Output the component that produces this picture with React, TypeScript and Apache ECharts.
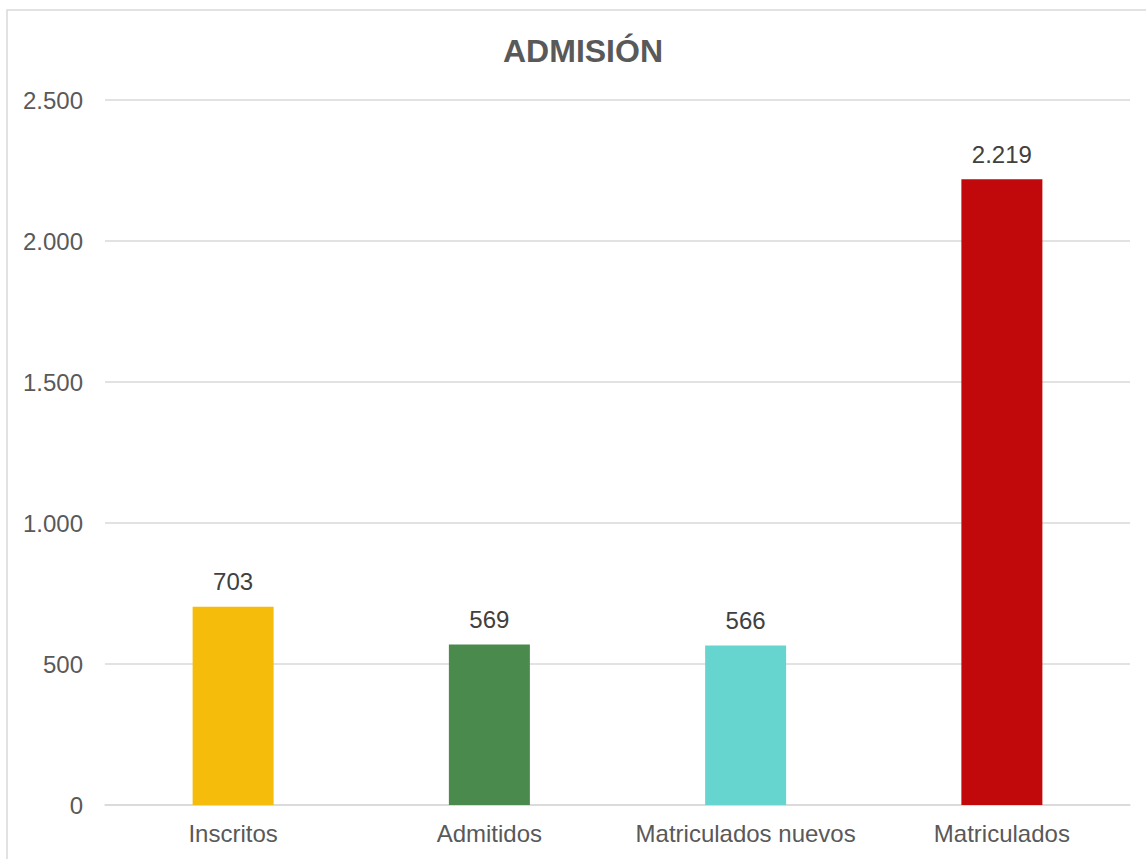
import React, { useEffect, useRef } from "react";
import * as echarts from "echarts";

const categories = ["Inscritos", "Admitidos", "Matriculados nuevos", "Matriculados"];
const values = [703, 569, 566, 2219];
const barColors = ["#F6BC0C", "#4A8A4C", "#67D5CF", "#C1090B"];
const yTicks = [0, 500, 1000, 1500, 2000, 2500];

const fmt = (v: number) => String(Math.round(v)).replace(/\B(?=(\d{3})+(?!\d))/g, ".");

export default function App() {
  const ref = useRef<HTMLDivElement>(null);
  useEffect(() => {
    document.body.style.margin = "0";
    const chart = echarts.init(ref.current!, undefined, { renderer: "svg" });
    const font = "'Liberation Sans', Arial, sans-serif";
    chart.setOption({
      animation: false,
      backgroundColor: "#ffffff",
      textStyle: { fontFamily: font },
      title: {
        text: "ADMISIÓN",
        left: 498,
        top: 30,
        textStyle: { fontSize: 32, fontWeight: "bold", color: "#595959", fontFamily: font },
      },
      graphic: [
        {
          type: "rect",
          shape: { x: 7, y: 10, width: 1160, height: 870 },
          style: { fill: "none", stroke: "#d9d9d9", lineWidth: 1.5 },
          silent: true,
          z: -1,
        },
      ],
      grid: { left: 105, right: 16, top: 100, bottom: 54, containLabel: false },
      xAxis: {
        type: "category",
        data: categories,
        axisLine: { show: true, lineStyle: { color: "#d9d9d9", width: 1.5 } },
        axisTick: { show: false },
        axisLabel: { color: "#595959", fontSize: 24, margin: 16, interval: 0, fontFamily: font },
      },
      yAxis: {
        type: "value",
        min: yTicks[0],
        max: yTicks[yTicks.length - 1],
        interval: 500,
        axisLine: { show: false },
        axisTick: { show: false },
        splitLine: { lineStyle: { color: "#d9d9d9", width: 1.5 } },
        axisLabel: { color: "#595959", fontSize: 24, margin: 22, formatter: (v: number) => fmt(v), fontFamily: font },
      },
      series: [
        {
          type: "bar",
          barWidth: 81,
          data: values.map((v, i) => ({ value: v, itemStyle: { color: barColors[i] } })),
          label: {
            show: true,
            position: "top",
            distance: 13,
            color: "#404040",
            fontSize: 24,
            fontFamily: font,
            formatter: (p: any) => fmt(p.value),
          },
        },
      ],
    });
    return () => chart.dispose();
  }, []);
  return <div ref={ref} style={{ position: "absolute", left: 0, top: 0, width: 1146, height: 859 }} />;
}
